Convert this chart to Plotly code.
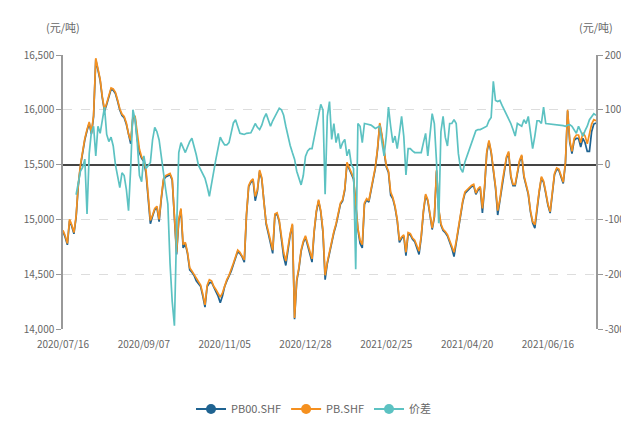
import pandas as pd
import plotly.graph_objects as go

# ---- trading dates (SHFE calendar, holidays removed) ----
holidays = ["2020-10-01", "2020-10-02", "2020-10-05", "2020-10-06", "2020-10-07", "2020-10-08",
            "2021-01-01", "2021-02-11", "2021-02-12", "2021-02-15", "2021-02-16", "2021-02-17",
            "2021-04-05", "2021-05-03", "2021-05-04", "2021-05-05", "2021-06-14"]
bdays = pd.bdate_range("2020-07-16", "2021-07-16")
dates = [d.strftime("%Y/%m/%d") for d in bdays if d.strftime("%Y-%m-%d") not in holidays]

tick_labels = ["2020/07/16", "2020/09/07", "2020/11/05", "2020/12/28",
               "2021/02/25", "2021/04/20", "2021/06/16"]

pb = [14900, 14850, 14780, 15000, 14950, 14880, 15030, 15320, 15500, 15630,
      15740, 15820, 15890, 15790, 15950, 16470, 16380, 16280, 16120, 16000,
      16060, 16130, 16200, 16190, 16160, 16090, 16010, 15960, 15940, 15880,
      15780, 15720, 15940, 15940, 15760, 15640, 15570, 15540, 15450, 15220,
      14990, 15040, 15100, 15120, 15000, 15200, 15370, 15400, 15410, 15420,
      15370, 15000, 14700, 15000, 15100, 14770, 14790, 14700, 14560, 14530,
      14500, 14460, 14430, 14400, 14320, 14220, 14400, 14450, 14440, 14390,
      14360, 14330, 14290, 14330, 14400, 14450, 14490, 14540, 14600, 14660,
      14720, 14700, 14670, 14630, 15050, 15310, 15350, 15370, 15210, 15270,
      15450, 15380, 15150, 14970, 14890, 14810, 14720, 15050, 15060, 14990,
      14840, 14700, 14620, 14750, 14870, 14960, 14100, 14450, 14560, 14720,
      14800, 14850, 14780, 14710, 14640, 14900, 15080, 15180, 15080, 14900,
      14490, 14610, 14710, 14800, 14890, 14960, 15050, 15150, 15180, 15280,
      15520, 15470, 15430, 15380, 15150, 14920, 14810, 14770, 15150, 15190,
      15170, 15270, 15380, 15480, 15650, 15880, 15770, 15640, 15490, 15440,
      15250, 15200, 15120, 15000, 14810, 14840, 14860, 14700, 14880, 14870,
      14830, 14810, 14750, 14710, 14850, 15080, 15230, 15180, 15050, 14920,
      15030, 15450, 15100, 14960, 14910, 14890, 14860, 14810, 14750, 14700,
      14800, 14930, 15040, 15170, 15250, 15270, 15290, 15310, 15320, 15240,
      15280, 15300, 15100, 15300, 15620, 15720, 15620, 15460, 15300, 15080,
      15180, 15330, 15440, 15570, 15620, 15400, 15320, 15320, 15430, 15540,
      15590, 15400, 15320, 15240, 15080, 14980, 14950, 15130, 15260, 15390,
      15350, 15250, 15140, 15070, 15230, 15420, 15470, 15460, 15400, 15340,
      15520, 16000, 15720, 15620, 15740, 15770, 15770, 15700, 15790, 15760,
      15690, 15780, 15870, 15910, 15900]

pb00 = [14888, 14838, 14768, 14988, 14938, 14868, 15018, 15308, 15488, 15618,
        15728, 15808, 15878, 15778, 15938, 16458, 16368, 16268, 16108, 15988,
        16048, 16118, 16188, 16178, 16148, 16078, 15998, 15948, 15928, 15868,
        15768, 15690, 15928, 15928, 15730, 15610, 15558, 15528, 15420, 15200,
        14960, 15028, 15088, 15108, 14980, 15188, 15358, 15388, 15398, 15408,
        15358, 14988, 14680, 14988, 15088, 14740, 14778, 14688, 14540, 14518,
        14488, 14440, 14418, 14388, 14300, 14200, 14388, 14420, 14428, 14378,
        14340, 14300, 14240, 14300, 14388, 14438, 14478, 14528, 14588, 14648,
        14708, 14688, 14658, 14610, 15038, 15298, 15338, 15358, 15170, 15258,
        15438, 15368, 15120, 14958, 14870, 14770, 14690, 15038, 15048, 14978,
        14820, 14660, 14580, 14738, 14858, 14948, 14090, 14438, 14548, 14708,
        14788, 14838, 14768, 14698, 14610, 14888, 15068, 15168, 15068, 14880,
        14450, 14598, 14698, 14788, 14878, 14948, 15038, 15138, 15168, 15268,
        15508, 15458, 15418, 15368, 15138, 14908, 14780, 14740, 15138, 15178,
        15158, 15258, 15368, 15468, 15638, 15868, 15758, 15628, 15478, 15428,
        15220, 15188, 15108, 14988, 14790, 14828, 14848, 14670, 14868, 14858,
        14818, 14798, 14738, 14680, 14838, 15068, 15218, 15168, 15038, 14908,
        15018, 15438, 15088, 14948, 14898, 14878, 14848, 14798, 14738, 14660,
        14788, 14918, 15028, 15158, 15238, 15258, 15278, 15298, 15308, 15228,
        15268, 15288, 15060, 15288, 15608, 15708, 15608, 15448, 15288, 15040,
        15168, 15318, 15428, 15558, 15608, 15388, 15308, 15308, 15418, 15528,
        15578, 15388, 15308, 15228, 15068, 14968, 14920, 15118, 15248, 15378,
        15338, 15238, 15128, 15058, 15218, 15408, 15458, 15448, 15388, 15328,
        15508, 15988, 15700, 15600, 15720, 15740, 15740, 15660, 15740, 15700,
        15620, 15620, 15800, 15870, 15880]

spread = [None, None, None, None, None, None, -55, -30, -12, -5,
          10, -90, 20, 60, 70, 16, 70, 57, 80, 105,
          55, 42, 50, 34, 0, -25, -42, -15, -20, -45,
          -84, -5, 100, 82, 40, -20, -31, 16, -7, -2,
          4, 45, 68, 60, 45, 15, -19, -45, -72, -180,
          -250, -294, -120, 22, 40, 30, 22, 32, 42, 48,
          35, 18, -1, -10, -18, -25, -40, -58, -35, -10,
          10, 30, 50, 42, 36, 36, 40, 58, 76, 82,
          68, 57, 56, 55, 57, 57, 58, 66, 75, 68,
          64, 72, 85, 93, 80, 70, 80, 88, 98, 103,
          100, 90, 70, 50, 35, 22, 10, -12, -25, -37,
          -20, 15, 25, 29, 29, 50, 70, 90, 110, 100,
          -54, 88, 115, 46, 75, 40, 57, 29, 40, 46,
          16, 28, 0, -7, -191, 75, 70, 40, 75, 74,
          73, 72, 69, 66, 68, 70, 40, 16, 52, 105,
          70, 40, 52, 29, 57, 88, 52, -19, 29, 29,
          25, 22, 22, 22, 22, 40, 57, 16, 60, 93,
          75, 4, -107, 60, 88, 50, 34, 75, 75, 82,
          75, 20, -7, -14, 5, 16, 30, 40, 52, 62,
          64, 64, 66, 68, 70, 80, 86, 152, 117, 115,
          117, 108, 100, 93, 84, 75, 64, 52, 75, 72,
          70, 82, 75, 88, 60, 29, 52, 80, 80, 75,
          105, 75, None, None, None, None, None, None, None, 71,
          70, 72, 73, 70, 62, 57, 70, 60, 52, 62,
          70, 82, 88, 93, 90]

series_names = ["PB00.SHF", "PB.SHF", "价差"]
colors = ["#1f6391", "#f5901f", "#5cc2c2"]

FONT = "Noto Sans CJK SC"
GRAY = "#666666"

fig = go.Figure()
fig.add_trace(go.Scatter(x=dates, y=pb00, mode="lines", name=series_names[0],
                         line=dict(color=colors[0], width=1.7), showlegend=False,
                         legendgroup="a"))
fig.add_trace(go.Scatter(x=dates, y=pb, mode="lines", name=series_names[1],
                         line=dict(color=colors[1], width=1.7), showlegend=False,
                         legendgroup="b"))
fig.add_trace(go.Scatter(x=dates, y=spread, mode="lines", name=series_names[2],
                         line=dict(color=colors[2], width=1.7), showlegend=False,
                         connectgaps=True, yaxis="y2", legendgroup="c"))

# legend entries (line + dot)
for nm, c, g in zip(series_names, colors, ["a", "b", "c"]):
    fig.add_trace(go.Scatter(x=[None], y=[None], mode="lines+markers", name=nm,
                             line=dict(color=c, width=2), marker=dict(color=c, size=10),
                             legendgroup=g, showlegend=True))

fig.update_layout(
    width=629, height=428,
    margin=dict(l=55, r=39, t=47, b=100),
    plot_bgcolor="white", paper_bgcolor="white",
    font=dict(family=FONT, size=10, color=GRAY),
    showlegend=True,
    legend=dict(orientation="h", x=0.47, xanchor="center", y=-0.292, yanchor="middle",
                font=dict(size=11, color=GRAY, family=FONT), itemwidth=30),
    xaxis=dict(type="category", range=[0, len(dates) - 1],
               tickmode="array", tickvals=tick_labels, ticktext=tick_labels,
               showgrid=False, showline=False, zeroline=False, ticks="",
               ticklabelstandoff=8,
               tickfont=dict(size=10, color=GRAY), tickangle=0),
    yaxis=dict(range=[14000, 16500], tickvals=[14000, 14500, 15000, 15500, 16000, 16500],
               tickformat=",", showline=True, linecolor="#999999", linewidth=1.5,
               ticks="outside", ticklen=5, tickcolor="#999999",
               showgrid=True, gridcolor="#dddddd", griddash="dash", gridwidth=1,
               zeroline=False, tickfont=dict(size=10, color=GRAY)),
    yaxis2=dict(range=[-300, 200], overlaying="y", side="right",
                tickvals=[-300, -200, -100, 0, 100, 200],
                ticktext=["-300", "-200", "-100", "0", "100", "200"],
                showline=True, linecolor="#999999", linewidth=1.5,
                ticks="outside", ticklen=5, tickcolor="#999999",
                showgrid=False, zeroline=True, zerolinecolor="#444444", zerolinewidth=1.5,
                tickfont=dict(size=10, color=GRAY)),
    annotations=[
        dict(text="(元/吨)", xref="paper", yref="paper", x=0, y=1, xshift=0, yshift=28,
             xanchor="center", yanchor="middle", showarrow=False,
             font=dict(size=11, color=GRAY, family=FONT)),
        dict(text="(元/吨)", xref="paper", yref="paper", x=1, y=1, yshift=28,
             xanchor="center", yanchor="middle", showarrow=False,
             font=dict(size=11, color=GRAY, family=FONT)),
    ],
)

fig.write_html("out.html")
